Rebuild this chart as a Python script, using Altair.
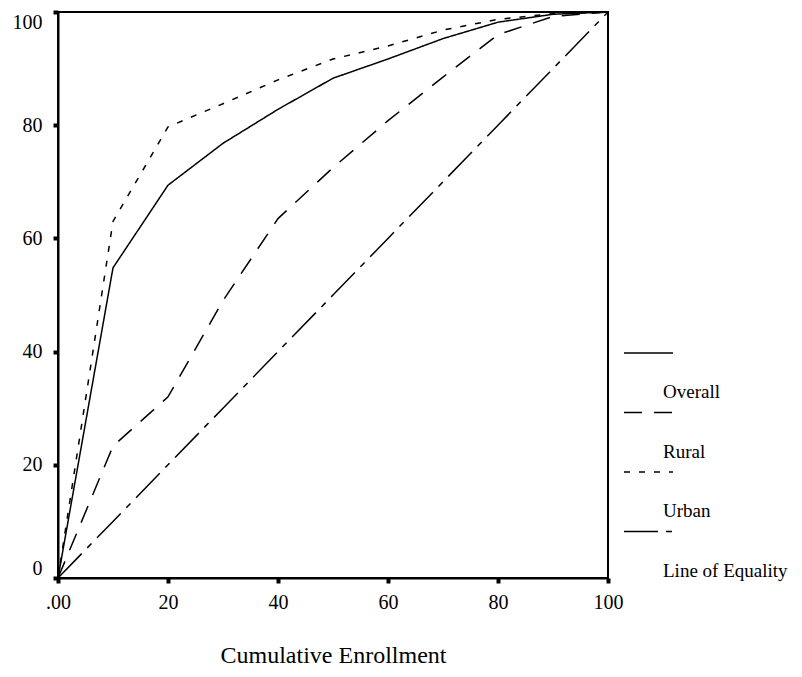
import altair as alt
import pandas as pd

# ---- data ----
enroll = [0, 10, 20, 30, 40, 50, 60, 70, 80, 90, 100]
overall = [0, 54.8, 69.4, 76.8, 82.8, 88.3, 91.7, 95.3, 98.2, 99.6, 100]
rural = [0, 23.3, 32.0, 49.0, 63.5, 72.5, 80.8, 88.5, 96.0, 99.2, 100]
urban = [0, 63.0, 79.7, 83.8, 88.0, 91.7, 94.0, 96.8, 98.7, 99.7, 100]
equality = [0, 10, 20, 30, 40, 50, 60, 70, 80, 90, 100]

series_names = ["Overall", "Rural", "Urban", "Line of Equality"]
series_values = [overall, rural, urban, equality]
dashes = [[1, 0], [18, 12], [6, 9], [34, 8, 6, 8]]

rows = []
for name, vals in zip(series_names, series_values):
    for x, y in zip(enroll, vals):
        rows.append({"x": x, "y": y, "series": name})
df = pd.DataFrame(rows)

FONT = "Liberation Serif"

lines = alt.Chart(df).mark_line(color="black", strokeWidth=1.5).encode(
    x=alt.X("x:Q", scale=alt.Scale(domain=[0, 100], nice=False),
            axis=alt.Axis(values=[0, 20, 40, 60, 80, 100],
                          labelExpr="datum.value == 0 ? '.00' : datum.label",
                          title="Cumulative Enrollment",
                          titleY=84, titleBaseline="alphabetic",
                          titleFontSize=24, titleFontWeight="normal",
                          labelPadding=9, labelFlush=False)),
    y=alt.Y("y:Q", scale=alt.Scale(domain=[0, 100], nice=False),
            axis=alt.Axis(values=[0, 20, 40, 60, 80, 100], title=None,
                          labelPadding=11, labelFlush=True)),
    strokeDash=alt.StrokeDash("series:N",
                              scale=alt.Scale(domain=series_names, range=dashes),
                              legend=None),
    detail="series:N",
)

one = pd.DataFrame({"a": [0]})
legend_layers = []
for i, (name, d) in enumerate(zip(series_names, dashes)):
    legend_layers.append(
        alt.Chart(one).mark_rule(color="black", strokeWidth=1.5, strokeDash=d).encode(
            x=alt.value(566), x2=alt.value(615), y=alt.value(341 + 59.5 * i)
        )
    )
    legend_layers.append(
        alt.Chart(one).mark_text(align="left", baseline="middle", font=FONT,
                                 fontSize=19, color="black").encode(
            x=alt.value(605), y=alt.value(380 + 59.5 * i), text=alt.value(name)
        )
    )

chart = alt.layer(lines, *legend_layers).properties(
    width=550, height=566,
    autosize=alt.AutoSizeParams(type="none"),
    padding={"left": 50, "top": 4, "right": 186, "bottom": 91},
).configure_view(
    stroke="black", strokeWidth=2
).configure_axis(
    grid=False, domainColor="black", domainWidth=2,
    tickColor="black", tickSize=5, tickWidth=4,
    labelFont=FONT, labelFontSize=20, labelColor="black",
    titleFont=FONT, titleColor="black",
)

chart.save("out.html", embed_options={"renderer": "svg", "actions": False})
